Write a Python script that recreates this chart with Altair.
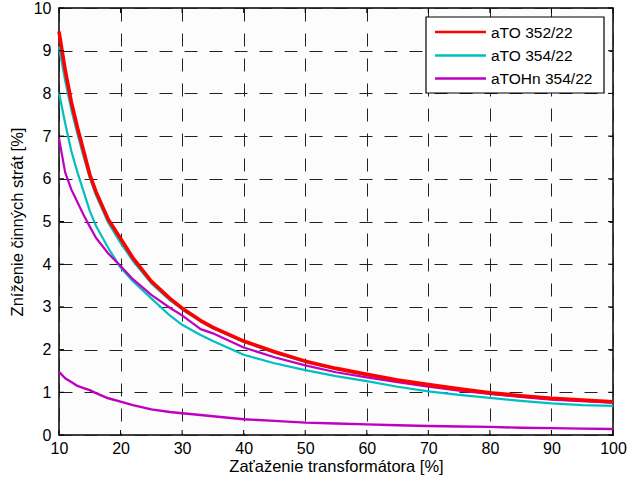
import altair as alt
import pandas as pd

# ---- data ----
x_vals = [10, 11, 12, 13, 14, 15, 16, 18, 20, 22, 25, 28, 30, 33, 35, 40, 45, 50, 55, 60, 65, 70, 75, 80, 85, 90, 95, 100]

red_352 = [9.45, 8.55, 7.8, 7.2, 6.65, 6.1, 5.7, 5.05, 4.6, 4.15, 3.6, 3.2, 2.97, 2.68, 2.52, 2.2, 1.95, 1.73, 1.56, 1.42, 1.29, 1.18, 1.08, 0.99, 0.92, 0.86, 0.82, 0.78]
cyan_354a = [9.1, 8.3, 7.62, 7.05, 6.52, 6.02, 5.62, 4.97, 4.5, 4.08, 3.55, 3.16, 2.94, 2.66, 2.5, 2.18, 1.93, 1.71, 1.54, 1.4, 1.27, 1.16, 1.06, 0.97, 0.9, 0.84, 0.8, 0.76]
cyan_354b = [8.02, 7.3, 6.65, 6.15, 5.7, 5.25, 4.9, 4.38, 3.92, 3.6, 3.2, 2.8, 2.58, 2.34, 2.2, 1.88, 1.68, 1.52, 1.38, 1.26, 1.13, 1.02, 0.94, 0.87, 0.8, 0.74, 0.7, 0.68]
mag_354a = [6.95, 6.15, 5.75, 5.45, 5.15, 4.88, 4.62, 4.25, 3.96, 3.65, 3.28, 2.98, 2.8, 2.48, 2.38, 2.05, 1.82, 1.63, 1.47, 1.35, 1.24, 1.13, 1.04, 0.96, 0.89, 0.83, 0.79, 0.76]
mag_354b = [1.48, 1.33, 1.24, 1.15, 1.1, 1.05, 0.98, 0.86, 0.78, 0.7, 0.6, 0.54, 0.51, 0.47, 0.44, 0.37, 0.33, 0.29, 0.27, 0.25, 0.23, 0.21, 0.2, 0.19, 0.17, 0.16, 0.15, 0.14]

names = ["aTO 352/22", "aTO 354/22", "aTOHn 354/22"]
colors = ["#ff0000", "#00bfbf", "#bf00bf"]

x_ticks = [10, 20, 30, 40, 50, 60, 70, 80, 90, 100]
y_ticks = [0, 1, 2, 3, 4, 5, 6, 7, 8, 9, 10]

series = [
    ("c1", names[1], cyan_354b, 2.2),
    ("c2", names[1], cyan_354a, 2.2),
    ("m1", names[2], mag_354b, 2.4),
    ("m2", names[2], mag_354a, 2.2),
    ("r1", names[0], red_352, 3.6),
]

W, H = 554, 427
FONT = "Liberation Sans"
FS = 16

rows = []
for sid, nm, vals, w in series:
    for x, y in zip(x_vals, vals):
        rows.append({"x": x, "y": y, "sid": sid, "name": nm})
df = pd.DataFrame(rows)

xs = alt.Scale(domain=[10, 100], nice=False)
ys = alt.Scale(domain=[0, 10], nice=False)
cs = alt.Scale(domain=names, range=colors)

x_axis = alt.Axis(values=x_ticks, title="Zaťaženie transformátora [%]", grid=True,
                  gridDash=[13, 12], gridColor="#222222", gridWidth=1, gridOpacity=1,
                  ticks=False, tickSize=0, labelPadding=5, domain=False,
                  labelFontSize=FS, titleFontSize=FS + 0.5, labelFont=FONT, titleFont=FONT,
                  labelColor="#000", titleColor="#000", titleFontWeight="normal",
                  titlePadding=2, labelFlush=False)
y_axis = alt.Axis(values=y_ticks, title="Zníženie činných strát [%]", grid=True,
                  gridDash=[13, 12], gridColor="#222222", gridWidth=1, gridOpacity=1,
                  ticks=False, tickSize=0, labelPadding=8, domain=False,
                  labelFontSize=FS, titleFontSize=FS + 0.5, labelFont=FONT, titleFont=FONT,
                  labelColor="#000", titleColor="#000", titleFontWeight="normal",
                  titlePadding=8, labelFlush=False)

layers = []
for i, (sid, nm, vals, w) in enumerate(series):
    sub = df[df.sid == sid]
    if i == 0:
        xe = alt.X("x:Q", scale=xs, axis=x_axis)
        ye = alt.Y("y:Q", scale=ys, axis=y_axis)
    else:
        xe = alt.X("x:Q", scale=xs)
        ye = alt.Y("y:Q", scale=ys)
    layers.append(
        alt.Chart(sub).mark_line(strokeWidth=w, strokeJoin="round", strokeCap="butt").encode(
            x=xe, y=ye,
            color=alt.Color("name:N", scale=cs, legend=None),
        )
    )

tick_x = pd.DataFrame({"t": x_ticks})
tick_y = pd.DataFrame({"t": y_ticks})
tk = dict(color="#000", strokeWidth=1)
ticks = [
    alt.Chart(tick_x).mark_rule(**tk).encode(x=alt.X("t:Q", scale=xs), y=alt.value(0), y2=alt.value(5)),
    alt.Chart(tick_x).mark_rule(**tk).encode(x=alt.X("t:Q", scale=xs), y=alt.value(H - 5), y2=alt.value(H)),
    alt.Chart(tick_y).mark_rule(**tk).encode(y=alt.Y("t:Q", scale=ys), x=alt.value(0), x2=alt.value(5)),
    alt.Chart(tick_y).mark_rule(**tk).encode(y=alt.Y("t:Q", scale=ys), x=alt.value(W - 5), x2=alt.value(W)),
]

# ---- legend box drawn manually ----
LX0, LX1, LY0, LY1 = 367, 545, 9, 85
row_y = [24, 47.5, 70.5]
legend_layers = [
    alt.Chart(pd.DataFrame({"a": [0]})).mark_rect(fill="#ffffff", stroke="#000", strokeWidth=1.2).encode(
        x=alt.value(LX0), x2=alt.value(LX1), y=alt.value(LY0), y2=alt.value(LY1))
]
for nm, col, ry in zip(names, colors, row_y):
    d = pd.DataFrame({"name": [nm]})
    legend_layers.append(
        alt.Chart(d).mark_rule(color=col, strokeWidth=2.5).encode(
            x=alt.value(376), x2=alt.value(427), y=alt.value(ry))
    )
    legend_layers.append(
        alt.Chart(d).mark_text(align="left", baseline="middle", font=FONT, fontSize=15.5, color="#000").encode(
            x=alt.value(432), y=alt.value(ry + 0.5), text="name:N")
    )

chart = alt.layer(*layers, *ticks, *legend_layers).properties(
    width=W, height=H,
    autosize=alt.AutoSizeParams(type="none"),
    padding={"left": 59, "top": 8, "right": 14, "bottom": 48},
    background="#ffffff",
).configure_view(
    stroke="#000", strokeWidth=1.5, fill="#fcfcfc"
)

chart.save("out.html", embed_options={"renderer": "svg", "actions": False})
